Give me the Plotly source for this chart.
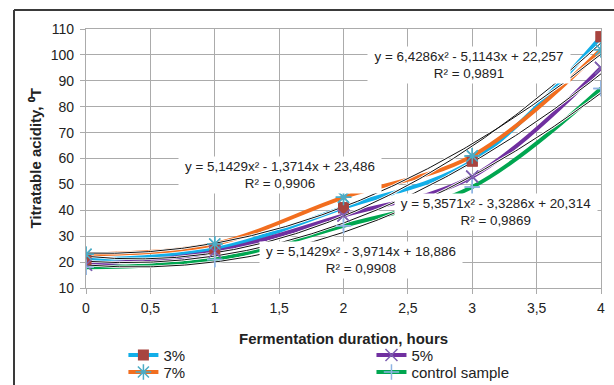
import numpy as np
import plotly.graph_objects as go

# ---- data ----
hours = [0, 1, 2, 3, 4]
acid_3 = [21, 25, 41, 59, 107]
acid_5 = [19, 24, 38, 53, 95]
acid_7 = [23, 27, 45, 61, 102]
acid_control = [18, 21, 34, 49, 87]

# polynomial trendline coefficients as printed on the chart (a, b, c)
trend_3 = [6.4286, -5.1143, 22.257]
trend_7 = [5.1429, -1.3714, 23.486]
trend_5 = [5.3571, -3.3286, 20.314]
trend_control = [5.1429, -3.9714, 18.886]

eq_3 = "y = 6,4286x² - 5,1143x + 22,257<br>R² = 0,9891"
eq_7 = "y = 5,1429x² - 1,3714x + 23,486<br>R² = 0,9906"
eq_5 = "y = 5,3571x² - 3,3286x + 20,314<br>R² = 0,9869"
eq_control = "y = 5,1429x² - 3,9714x + 18,886<br>R² = 0,9908"

x_ticks = [0, 0.5, 1, 1.5, 2, 2.5, 3, 3.5, 4]
x_tick_labels = ["0", "0,5", "1", "1,5", "2", "2,5", "3", "3,5", "4"]
y_ticks = [10, 20, 30, 40, 50, 60, 70, 80, 90, 100, 110]
y_tick_labels = [str(v) for v in y_ticks]

x_title = "<b>Fermentation duration, hours</b>"
y_title = "<b>Titratable acidity, ⁰T</b>"

FONT = "Arial, 'Liberation Sans', sans-serif"
GRID = "#ababab"
TXT = "#222222"

series = [
    ("3%", acid_3, "#12aee8", dict(symbol="square", size=11, color="#a8443f"), "legend"),
    ("5%", acid_5, "#7030a0", dict(symbol="x-thin-open", size=12, color="#7d5fb0", line=dict(width=1.5, color="#7d5fb0")), "legend2"),
    ("7%", acid_7, "#f26e1f", dict(symbol="asterisk-open", size=13, color="#4bacc6", line=dict(width=1.5, color="#4bacc6")), "legend3"),
    ("control sample", acid_control, "#00a650", dict(symbol="cross-thin-open", size=11, color="#8fb4e3", line=dict(width=1.5, color="#8fb4e3")), "legend4"),
]

fig = go.Figure()

for name, vals, col, mk, lg in series:
    fig.add_trace(go.Scatter(
        x=hours, y=vals, name=name, mode="lines+markers",
        line=dict(color=col, width=4, shape="spline", smoothing=1),
        marker=mk, legend=lg,
    ))

xs = np.linspace(0, 4, 200)
trend_curves = [np.polyval(c, xs) for c in [trend_3, trend_5, trend_7, trend_control]]
for ys in trend_curves:
    fig.add_trace(go.Scatter(x=xs, y=ys, mode="lines", line=dict(color="#ffffff", width=2.6),
                             showlegend=False, hoverinfo="skip"))
for ys in trend_curves:
    fig.add_trace(go.Scatter(x=xs, y=ys, mode="lines", line=dict(color="#111111", width=1),
                             showlegend=False, hoverinfo="skip"))

for name, vals, col, mk, lg in series:
    fig.add_trace(go.Scatter(x=hours, y=vals, mode="markers", marker=mk,
                             showlegend=False, hoverinfo="skip"))

def eq_ann(text, x, y):
    return dict(text=text, x=x, y=y, xref="x", yref="y", showarrow=False,
                bgcolor="white", width=202, height=36, borderpad=0,
                font=dict(family=FONT, size=13.4, color=TXT), align="center")

def leg(x, y):
    return dict(x=x, y=y, xref="container", yref="container",
                xanchor="left", yanchor="top", orientation="v",
                font=dict(size=15, color=TXT), bgcolor="rgba(0,0,0,0)",
                tracegroupgap=0, itemwidth=30)

fig.update_layout(
    width=614, height=385,
    margin=dict(l=86, r=13, t=29, b=97, autoexpand=False),
    paper_bgcolor="white", plot_bgcolor="white",
    font=dict(family=FONT, color=TXT),
    xaxis=dict(range=[0, 4], tickvals=x_ticks, ticktext=x_tick_labels, automargin=False,
               showgrid=True, gridcolor=GRID, gridwidth=1.3,
               showline=True, linecolor=GRID, linewidth=1.3, mirror=True,
               ticks="outside", ticklen=5, tickcolor=GRID, tickwidth=1.3,
               ticklabelstandoff=2,
               tickfont=dict(size=14, color=TXT), zeroline=False),
    yaxis=dict(range=[10, 110], tickvals=y_ticks, ticktext=y_tick_labels, automargin=False,
               showgrid=True, gridcolor=GRID, gridwidth=1.3,
               showline=True, linecolor=GRID, linewidth=1.3, mirror=True,
               ticks="outside", ticklen=5, tickcolor=GRID, tickwidth=1.3,
               ticklabelstandoff=3,
               tickfont=dict(size=14, color=TXT), zeroline=False),
    legend=leg(0.201, 0.12),
    legend2=leg(0.605, 0.12),
    legend3=leg(0.201, 0.076),
    legend4=leg(0.605, 0.076),
    annotations=[
        eq_ann(eq_3, 2.975, 96.2),
        eq_ann(eq_7, 1.507, 53.5),
        eq_ann(eq_5, 3.184, 39.5),
        eq_ann(eq_control, 2.136, 20.7),
        dict(text=x_title, xref="paper", yref="paper", x=(343 - 86) / 515, y=(288 - 338) / 259,
             showarrow=False, xanchor="center", yanchor="middle",
             font=dict(family=FONT, size=15, color=TXT)),
        dict(text=y_title, xref="paper", yref="paper", x=(35 - 86) / 515, y=0.5,
             showarrow=False, xanchor="center", yanchor="middle", textangle=-90,
             font=dict(family=FONT, size=15, color=TXT)),
    ],
    shapes=[
        dict(type="line", xref="paper", yref="paper", x0=-0.1398, x1=1.06, y0=1.0734, y1=1.0734,
             line=dict(color="#3a3a3a", width=2)),
        dict(type="line", xref="paper", yref="paper", x0=-0.1398, x1=-0.1398, y0=1.0734, y1=-0.4,
             line=dict(color="#3a3a3a", width=2)),
    ],
)

fig.write_html("out.html", config={"displayModeBar": False},
               post_script="document.body.style.margin='0';")
